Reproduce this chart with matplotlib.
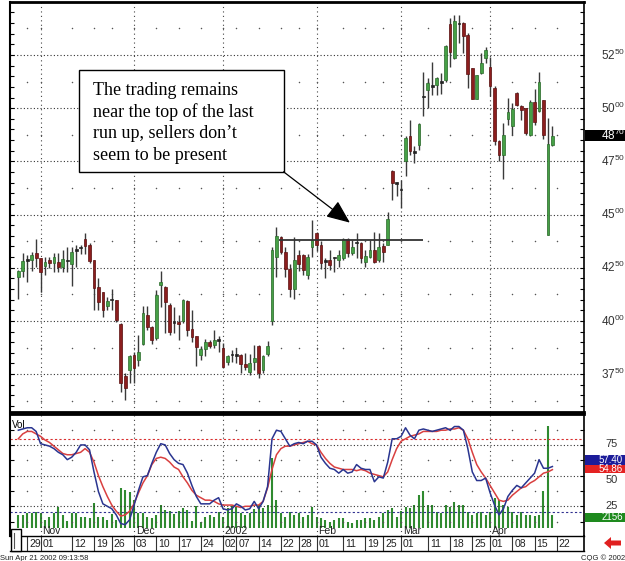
import numpy as np
import pandas as pd
import matplotlib
matplotlib.use("Agg")
import matplotlib.pyplot as plt
import matplotlib.transforms as mtransforms
from matplotlib.patches import Rectangle, FancyArrow
from matplotlib.ticker import MultipleLocator

plt.rcParams["font.family"] = ["Liberation Sans", "DejaVu Sans"]
plt.rcParams["mathtext.default"] = "regular"

# -----------------------------
# Data (daily bars, Oct 25 2001 - Apr 19 2002)
# -----------------------------
START, END = "2001-10-25", "2002-04-22"
HOLIDAYS = ["2001-11-22", "2001-12-25", "2002-01-01", "2002-01-21",
            "2002-02-18", "2002-03-29"]

opens = [4205, 4236, 4283, 4286, 4317, 4294, 4258, 4286, 4270, 4278,
         4255, 4280, 4267, 4331, 4342, 4384, 4356, 4286, 4161, 4138,
         4070, 4103, 4098, 3986, 3739, 3770, 3841, 3817, 3892, 4028,
         3973, 3919, 4169, 4161, 4075, 4000, 3997, 4000, 4095, 3961,
         3927, 3841, 3867, 3903, 3886, 3914, 3872, 3809, 3844, 3844,
         3841, 3798, 3762, 3805, 3883, 3770, 3844, 4000, 4300, 4394,
         4323, 4245, 4151, 4311, 4309, 4216, 4348, 4411, 4356, 4286,
         4286, 4302, 4286, 4294, 4387, 4317, 4372, 4367, 4278, 4302,
         4333, 4286, 4352, 4356, 4703, 4650, 4620, 4750, 4867, 4797,
         4828, 5058, 5086, 5098, 5109, 5130, 5133, 5395, 5234, 5398,
         5398, 5344, 5188, 5042, 5167, 5234, 5195, 5094, 4844, 4781,
         4948, 4914, 5073, 5011, 5000, 4875, 5028, 4987, 5039, 4406,
         4828]
highs = [4240, 4317, 4312, 4325, 4384, 4298, 4302, 4302, 4317, 4317,
         4333, 4348, 4348, 4359, 4359, 4411, 4364, 4286, 4200, 4138,
         4111, 4150, 4100, 3989, 3755, 3841, 3856, 3934, 4070, 4070,
         3976, 4145, 4234, 4164, 4083, 4067, 4028, 4102, 4098, 4052,
         3930, 3883, 3914, 3911, 3958, 3930, 3895, 3841, 3864, 3872,
         3845, 3848, 3845, 3887, 3887, 3841, 3906, 4347, 4441, 4400,
         4347, 4269, 4394, 4334, 4316, 4316, 4473, 4416, 4378, 4294,
         4333, 4302, 4333, 4390, 4389, 4380, 4411, 4370, 4333, 4380,
         4419, 4411, 4364, 4512, 4711, 4652, 4664, 4867, 4945, 4820,
         4930, 5172, 5141, 5219, 5148, 5164, 5297, 5422, 5437, 5437,
         5406, 5352, 5188, 5156, 5258, 5289, 5242, 5102, 4852, 4930,
         5047, 5023, 5078, 5016, 5000, 5039, 5089, 5172, 5039, 4953,
         4917]
lows = [4103, 4208, 4181, 4234, 4252, 4137, 4216, 4250, 4231, 4231,
        4231, 4231, 4166, 4255, 4314, 4314, 4270, 4052, 4052, 4017,
        4052, 4052, 3997, 3664, 3630, 3708, 3708, 3786, 3887, 3958,
        3892, 3911, 4067, 3942, 3934, 3942, 3911, 3989, 3927, 3903,
        3786, 3817, 3834, 3875, 3872, 3856, 3778, 3794, 3809, 3802,
        3755, 3770, 3747, 3770, 3731, 3755, 3833, 3980, 4206, 4316,
        4206, 4112, 4105, 4237, 4214, 4198, 4300, 4330, 4245, 4200,
        4239, 4231, 4255, 4286, 4302, 4309, 4294, 4270, 4255, 4294,
        4270, 4278, 4278, 4356, 4570, 4586, 4531, 4680, 4781, 4742,
        4805, 4961, 5000, 5061, 5061, 5066, 5125, 5195, 5230, 5305,
        5258, 5095, 5042, 5042, 5161, 5211, 5055, 4828, 4750, 4667,
        4922, 4875, 5008, 4945, 4875, 4870, 4922, 4980, 4855, 4406,
        4820]
closes = [4236, 4283, 4289, 4312, 4294, 4228, 4278, 4273, 4302, 4255,
          4289, 4283, 4325, 4336, 4347, 4353, 4283, 4153, 4091, 4052,
          4094, 4098, 4005, 3708, 3684, 3836, 3778, 3856, 4039, 3973,
          3911, 4122, 4184, 4091, 3950, 3989, 3984, 4098, 3958, 3923,
          3877, 3867, 3903, 3880, 3911, 3906, 3783, 3833, 3839, 3836,
          3798, 3783, 3802, 3828, 3755, 3836, 3883, 4332, 4397, 4323,
          4245, 4151, 4287, 4269, 4239, 4302, 4380, 4356, 4270, 4278,
          4262, 4294, 4309, 4387, 4317, 4348, 4364, 4294, 4305, 4333,
          4278, 4348, 4325, 4481, 4648, 4645, 4614, 4859, 4797, 4789,
          4927, 5052, 5120, 5109, 5141, 5120, 5292, 5266, 5411, 5394,
          5339, 5161, 5042, 5156, 5214, 5273, 5102, 4844, 4781, 4875,
          4984, 4995, 5016, 4992, 4883, 5031, 4937, 5125, 4875, 4833,
          4870]
volumes = [2160, 2160, 2490, 2490, 2660, 2490, 1330, 1830, 2490, 3490,
           2160, 1160, 2490, 2490, 1830, 1830, 1660, 4150, 1830, 1830,
           1330, 2320, 1330, 6640, 6310, 5980, 4650, 2490, 2490, 1830,
           1660, 2160, 3820, 2990, 2820, 2320, 2820, 3320, 2990, 1160,
           3650, 1000, 1830, 2160, 1830, 2660, 1830, 3320, 3650, 3490,
           2490, 2160, 2490, 3150, 3820, 3320, 3820, 11620, 4650, 2490,
           1830, 2660, 2160, 2490, 1830, 2160, 3490, 1830, 1660, 1330,
           1000, 1330, 1660, 1660, 1000, 830, 1330, 1330, 1660, 1660,
           1330, 1830, 2490, 2990, 3320, 1830, 2820, 3490, 3320, 3820,
           5480, 6140, 3820, 3820, 2660, 2490, 3820, 3490, 4320, 3820,
           3820, 2660, 2160, 2490, 2660, 2160, 2660, 4980, 4650, 3820,
           3490, 2660, 2160, 2660, 2160, 2160, 1990, 2160, 6140, 16930,
           2156]
stoch_k = [87, 88, 89, 89, 86, 76, 75, 74, 72, 69,
           67, 63, 65, 69, 75, 75, 71, 53, 37, 27,
           25, 23, 18, 11, 10, 14, 26, 38, 49, 50,
           60, 69, 76, 75, 68, 63, 60, 59, 52, 42,
           33, 27, 27, 27, 30, 32, 23, 22, 23, 27,
           25, 22, 23, 29, 23, 29, 41, 80, 87, 86,
           80, 74, 76, 77, 76, 78, 78, 75, 65, 60,
           56, 55, 52, 55, 52, 53, 59, 56, 55, 55,
           45, 49, 48, 61, 80, 80, 82, 89, 83, 80,
           87, 88, 87, 86, 87, 88, 89, 87, 90, 90,
           87, 72, 53, 46, 46, 48, 36, 26, 18, 23,
           33, 38, 42, 40, 44, 48, 52, 63, 56, 56,
           57.4]
stoch_d = [80, 84, 86, 86, 84, 82, 79, 77, 74, 71,
           68, 67, 67, 68, 69, 72, 69, 61, 50, 41,
           33, 26, 21, 17, 18, 21, 27, 36, 44, 50,
           59, 64, 65, 64, 61, 57, 55, 49, 44, 38,
           34, 32, 30, 30, 29, 27, 26, 26, 26, 25,
           24, 25, 25, 26, 26, 29, 40, 55, 67, 72,
           74, 74, 75, 76, 77, 78, 76, 75, 69, 64,
           60, 57, 56, 55, 55, 55, 54, 55, 54, 52,
           51, 50, 49, 53, 63, 72, 78, 80, 82, 83,
           84, 86, 86, 86, 86, 87, 87, 88, 88, 89,
           87, 80, 69, 59, 53, 48, 42, 36, 30, 29,
           30, 34, 37, 40, 41, 44, 46, 49, 52, 53,
           54.86]

TICK_DATES = ["2001-10-29", "2001-11-01", "2001-11-12", "2001-11-19", "2001-11-26",
              "2001-12-03", "2001-12-10", "2001-12-17", "2001-12-24", "2002-01-02",
              "2002-01-07", "2002-01-14", "2002-01-22", "2002-01-28", "2002-02-01",
              "2002-02-11", "2002-02-19", "2002-02-25", "2002-03-01", "2002-03-11",
              "2002-03-18", "2002-03-25", "2002-04-01", "2002-04-08", "2002-04-15",
              "2002-04-22"]
MONTH_DATES = ["2001-11-01", "2001-12-03", "2002-01-02", "2002-02-01",
               "2002-03-01", "2002-04-01"]
MONTH_LABELS = ["Nov", "Dec", "2002", "Feb", "Mar", "Apr"]

PRICE_LEVELS = [3750, 4000, 4250, 4500, 4750, 5000, 5250]
STOCH_LEVELS = [25, 50, 75]
RESIST_LEVEL = 4380
RESIST_FROM, RESIST_TO = "2002-01-18", "2002-03-08"
LAST_PRICE = 4870

NOTE_LINES = ["The trading remains", "near the top of the last",
              "run up, sellers don\u2019t", "seem to be present"]

# -----------------------------
# Prep
# -----------------------------
days = pd.bdate_range(START, END, freq="C", holidays=HOLIDAYS)
opens, highs, lows, closes = map(np.array, (opens, highs, lows, closes))
n = len(closes)
x = np.arange(n)
tick_pos = days.get_indexer(pd.to_datetime(TICK_DATES))
tick_txt = [pd.Timestamp(d).strftime("%d") for d in TICK_DATES]
month_pos = days.get_indexer(pd.to_datetime(MONTH_DATES))
r0, r1 = days.get_indexer(pd.to_datetime([RESIST_FROM, RESIST_TO]))

GREEN, RED = "#46a046", "#8c1e1e"
VOLG = "#2f8a2f"
XLIM = (-1.87, 127.1)

W, H = 625, 561
fig = plt.figure(figsize=(W / 100, H / 100), dpi=100)


def frame(x0, y0, x1, y1):
    return [x0 / W, 1 - y1 / H, (x1 - x0) / W, (y1 - y0) / H]


ax = fig.add_axes(frame(10, 2, 584, 412))
axl = fig.add_axes(frame(10, 414, 584, 536))
axd = fig.add_axes(frame(10, 536, 584, 551))

# -----------------------------
# Price panel
# -----------------------------
ax.set_xlim(*XLIM)
ax.set_ylim(3572, 5499)

ax.hlines(PRICE_LEVELS, *XLIM, colors="#333333", linestyles=(0, (1, 2)), lw=0.8, zorder=1)
ax.vlines(month_pos, 3572, 5499, colors="#444444", linestyles=(0, (1, 3)), lw=0.8, zorder=1)
half_levels = np.arange(3625, 5500, 250)
gx, gy = np.meshgrid(tick_pos, half_levels)
ax.scatter(gx.ravel(), gy.ravel(), s=1.2, color="#555555", lw=0, zorder=1)

up = closes >= opens
tiny = np.abs(closes - opens) < 12
body_lo = np.minimum(opens, closes)
body_h = np.maximum(np.abs(closes - opens), 6)
face = np.where(tiny, "#222222", np.where(up, GREEN, RED))
edge = np.where(tiny, "#222222", np.where(up, "#2a6a2a", "#5a1010"))
ax.vlines(x, lows, highs, colors="#3a3a3a", lw=1, zorder=3)
ax.bar(x, body_h, bottom=body_lo, width=0.62, color=face, edgecolor=edge, lw=0.5, zorder=4)

ax.hlines(RESIST_LEVEL, r0 + 0.5, r1, colors="#333333", lw=1.3, zorder=5)

# note box + arrow
ax.add_patch(Rectangle((0.1202, 0.5854), 0.3572, 0.2486, transform=ax.transAxes,
                       fc="white", ec="black", lw=1, zorder=6))
for i, line in enumerate(NOTE_LINES):
    ax.text(0.1446, 0.7732 - i * 0.0529, line, transform=ax.transAxes,
            family=["Liberation Serif", "DejaVu Serif"], fontsize=13,
            va="baseline", ha="left", zorder=7)
ax.annotate("", xy=(74.5, 4462), xytext=(59.6, 4701),
            arrowprops=dict(arrowstyle="-|>,head_length=0.9,head_width=0.38",
                            mutation_scale=16, color="black", lw=0.9,
                            shrinkA=0, shrinkB=0), zorder=7)

ax.yaxis.set_major_locator(MultipleLocator(250))
ax.yaxis.set_minor_locator(MultipleLocator(50))
ax.tick_params(axis="y", which="both", direction="in", left=True, right=True,
               length=3, width=0.8, labelleft=False, labelright=False)
ax.tick_params(axis="x", which="both", bottom=False, labelbottom=False)
ax.spines["top"].set_linewidth(2)
ax.spines["bottom"].set_linewidth(2)
ax.spines["left"].set_linewidth(1.5)
ax.spines["right"].set_linewidth(1.2)

trans = mtransforms.blended_transform_factory(ax.transAxes, ax.transData)
for p in PRICE_LEVELS:
    s = str(p)
    ax.text(1.0296, p, r"$%s^{%s}$" % (s[:2], s[2:]), transform=trans,
            fontsize=8.5, color="#333333", va="center", ha="left", clip_on=False)
ax.add_patch(Rectangle((1.002, LAST_PRICE - 26), 0.07, 52, transform=trans,
                       fc="black", ec="none", clip_on=False, zorder=8))
s = str(LAST_PRICE)
ax.text(1.0296, LAST_PRICE, r"$%s^{%s}$" % (s[:2], s[2:]), transform=trans,
        fontsize=8.5, color="white", va="center", ha="left", clip_on=False, zorder=9)

# -----------------------------
# Lower panel: volume + stochastics
# -----------------------------
axv = axl.twinx()
axl.set_zorder(axv.get_zorder() + 1)
axl.patch.set_visible(False)
axv.set_xlim(*XLIM)
axv.set_ylim(-1328, 18924)
axv.vlines(x, 0, volumes, colors=VOLG, lw=1.5)
axv.set_yticks([])
for sp in axv.spines.values():
    sp.set_visible(False)

axl.set_xlim(*XLIM)
axl.set_ylim(0.8, 100.2)
axl.hlines(STOCH_LEVELS, *XLIM, colors="#333333", linestyles=(0, (1, 2)), lw=0.8, zorder=1)
axl.axhline(80, color="#d83030", ls=(0, (2, 2)), lw=0.8, zorder=1)
axl.axhline(20, color="#303090", ls=(0, (2, 2)), lw=0.8, zorder=1)
axl.vlines(month_pos, 0.8, 100.2, colors="#444444", linestyles=(0, (1, 3)), lw=0.8, zorder=1)
gx, gy = np.meshgrid(tick_pos, [12.5, 37.5, 62.5, 87.5])
axl.scatter(gx.ravel(), gy.ravel(), s=1.2, color="#555555", lw=0, zorder=1)

axl.plot(x, stoch_d, color="#d94040", lw=1.1, zorder=3)
axl.plot(x, stoch_k, color="#2a3590", lw=1.1, zorder=4)

axl.text(0.004, 0.95, "Vol", transform=axl.transAxes, fontsize=7, va="top", ha="left")
for p, lab in zip(month_pos, MONTH_LABELS):
    axl.text(p + 0.4, 4.6, lab, fontsize=7.5, va="center", ha="left", color="#222222")

axl.yaxis.set_major_locator(MultipleLocator(25))
axl.yaxis.set_minor_locator(MultipleLocator(12.5))
axl.tick_params(axis="y", which="both", direction="in", left=True, right=True,
                length=3, width=0.8, labelleft=False, labelright=False)
axl.tick_params(axis="x", which="both", bottom=False, labelbottom=False)
axl.spines["top"].set_linewidth(2)
axl.spines["bottom"].set_linewidth(1)
axl.spines["left"].set_linewidth(1.5)
axl.spines["right"].set_linewidth(1.2)

transl = mtransforms.blended_transform_factory(axl.transAxes, axl.transData)
label_y = {25: 25.5, 50: 46.8, 75: 75.5}
for v in STOCH_LEVELS:
    axl.text(1.0375, label_y[v], str(v), transform=transl, fontsize=8, color="#333333",
             va="center", ha="left", clip_on=False)

vol_to_stoch = 101.0 / 20252.0
boxes = [
    (58.6, 8.2, "#1c1c9a", "%.2f" % stoch_k[-1], 62.9, 10),
    (52.1, 6.5, "#e42222", "%.2f" % stoch_d[-1], 55.2, 11),
    ((volumes[-1] + 1328) * vol_to_stoch - 5, 7.3, "#1e8a1e", str(volumes[-1]),
     (volumes[-1] + 1328) * vol_to_stoch - 1.3, 11),
]
for y0, hgt, col, txt, ty, z in boxes:
    axl.add_patch(Rectangle((1.002, y0), 0.07, hgt, transform=transl, fc=col,
                            ec="none", clip_on=False, zorder=z))
    axl.text(1.068, ty, txt, transform=transl, fontsize=7, color="white",
             va="center", ha="right", clip_on=False, zorder=z + 0.5)

# -----------------------------
# Date strip
# -----------------------------
axd.set_xlim(*XLIM)
axd.set_ylim(0, 1)
axd.set_xticks([])
axd.set_yticks([])
axd.patch.set_visible(False)
axd.spines["top"].set_visible(False)
axd.spines["left"].set_visible(False)
axd.spines["bottom"].set_linewidth(1)
axd.spines["right"].set_linewidth(1.2)
axd.vlines(tick_pos, 0, 1, colors="#333333", lw=0.8)
for p, lab in zip(tick_pos, tick_txt):
    axd.text(p + 0.45, 0.45, lab, fontsize=7.5, va="center", ha="left", color="#222222")

# scroll widget, footer texts and arrow
fig.add_artist(Rectangle((11 / W, 1 - 551 / H), 10 / W, 22 / H, transform=fig.transFigure,
                         fc="white", ec="black", lw=1, zorder=10))
fig.add_artist(plt.Line2D([13.5 / W, 13.5 / W], [1 - 548 / H, 1 - 533 / H],
                          transform=fig.transFigure, color="#555555", lw=0.8, zorder=11))
fig.text(0.0, 1 - 558 / H, "Sun Apr 21 2002 09:13:58", fontsize=5.5, va="center",
         ha="left", color="#222222")
fig.text(1.0, 1 - 558 / H, "CQG \u00a9 2002", fontsize=5.5, va="center", ha="right",
         color="#222222")
fig.add_artist(FancyArrow(621 / W, 1 - 543 / H, -10 / W, 0, width=5 / H,
                          head_width=12 / H, head_length=7 / W,
                          length_includes_head=False, transform=fig.transFigure,
                          color="#e02020", lw=0))

fig.savefig("out.png", dpi=100)
